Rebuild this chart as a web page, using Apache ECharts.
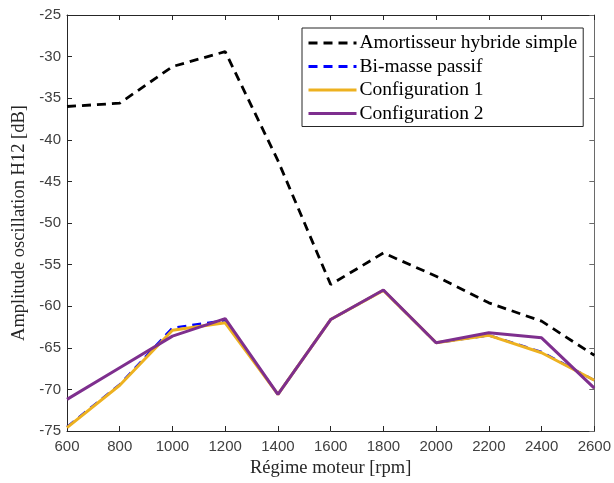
<!DOCTYPE html>
<html><head><meta charset="utf-8">
<script src="https://cdn.jsdelivr.net/npm/echarts@6/dist/echarts.min.js"></script>
<style>html,body{margin:0;padding:0;background:#fff}#c{width:614px;height:483px}</style>
</head><body><div id="c"></div>
<script>
const rpm = [600, 800, 1000, 1200, 1400, 1600, 1800, 2000, 2200, 2400, 2600];
const hybrideSimple = [-36.0, -35.6, -31.2, -29.4, -42.5, -57.4, -53.6, -56.4, -59.6, -61.8, -65.9];
const biMassePassif = [-74.5, -69.4, -62.6, -61.7, -70.6, -61.6, -58.1, -64.4, -63.5, -65.5, -68.9];
const config1 = [-74.6, -69.5, -62.9, -62.0, -70.6, -61.6, -58.1, -64.4, -63.5, -65.6, -68.9];
const config2 = [-71.2, -67.4, -63.6, -61.5, -70.6, -61.6, -58.05, -64.4, -63.2, -63.8, -69.85];
const seriesNames = ['Amortisseur hybride simple', 'Bi-masse passif', 'Configuration 1', 'Configuration 2'];

const pairs = arr => rpm.map((x, i) => [x, arr[i]]);
const serif = '"Liberation Serif","DejaVu Serif",serif';
const sans = '"Liberation Sans",Arial,sans-serif';
const axisCol = '#262626';

const chart = echarts.init(document.getElementById('c'), null, {renderer: 'canvas'});
const mk = (name, data, color, width, type) => ({
  name, type: 'line', data: pairs(data), symbol: 'none', animation: false,
  lineStyle: {color, width, type}, itemStyle: {color}, z: 3
});
chart.setOption({
  animation: false,
  backgroundColor: '#fff',
  grid: {left: 67, right: 19, top: 15, bottom: 52, containLabel: false},
  legend: {
    orient: 'vertical', left: 302, top: 28, selectedMode: false,
    backgroundColor: '#fff', borderColor: axisCol, borderWidth: 1,
    padding: [5, 6, 3, 5], itemWidth: 48, itemHeight: 14, itemGap: 3.5,
    itemStyle: {opacity: 0},
    lineStyle: {width: 3},
    textStyle: {fontFamily: serif, fontSize: 19.5, color: '#000', padding: [0, 0, 0, -2]},
    data: seriesNames
  },
  xAxis: [{
    type: 'value', min: 600, max: 2600, interval: 200,
    name: 'Régime moteur [rpm]', nameLocation: 'middle', nameGap: 28,
    nameTextStyle: {fontFamily: serif, fontSize: 18.5, color: axisCol},
    axisLine: {show: true, lineStyle: {color: axisCol, width: 1}},
    axisTick: {show: true, inside: true, length: 5, lineStyle: {color: axisCol}},
    axisLabel: {fontFamily: sans, fontSize: 15, color: '#404040', margin: 8, formatter: v => String(v)},
    splitLine: {show: false}
  }, {
    type: 'value', min: 600, max: 2600, interval: 200, position: 'top',
    axisLine: {show: true, lineStyle: {color: axisCol, width: 1}},
    axisTick: {show: true, inside: true, length: 5, lineStyle: {color: axisCol}},
    axisLabel: {show: false}, splitLine: {show: false}
  }],
  yAxis: [{
    type: 'value', min: -75, max: -25, interval: 5,
    name: 'Amplitude oscillation H12 [dB]', nameLocation: 'middle', nameGap: 36,
    nameTextStyle: {fontFamily: serif, fontSize: 18.5, color: axisCol},
    axisLine: {show: true, lineStyle: {color: axisCol, width: 1}},
    axisTick: {show: true, inside: true, length: 5, lineStyle: {color: axisCol}},
    axisLabel: {fontFamily: sans, fontSize: 15, color: '#404040', margin: 6, formatter: v => String(v)},
    splitLine: {show: false}
  }, {
    type: 'value', min: -75, max: -25, interval: 5, position: 'right',
    axisLine: {show: true, lineStyle: {color: '#6a6a6a', width: 1}},
    axisTick: {show: true, inside: true, length: 5, lineStyle: {color: '#6a6a6a'}},
    axisLabel: {show: false}, splitLine: {show: false}
  }],
  series: [
    mk(seriesNames[0], hybrideSimple, '#000000', 2.8, [9, 6]),
    mk(seriesNames[1], biMassePassif, '#0000ff', 2.4, [9, 6]),
    mk(seriesNames[2], config1, '#EDB120', 3, 'solid'),
    mk(seriesNames[3], config2, '#7E2F8E', 3, 'solid')
  ]
});
</script></body></html>
